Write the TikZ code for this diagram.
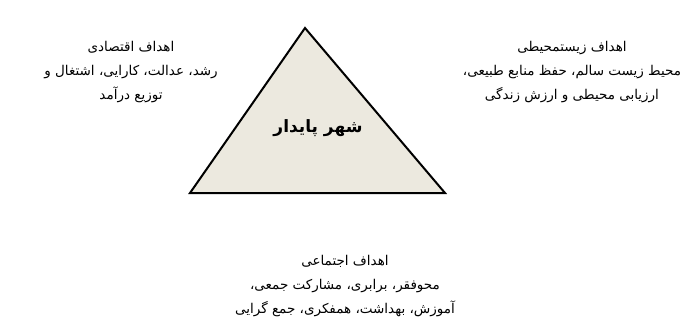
\documentclass[tikz,border=0pt]{standalone}
\usepackage{fontspec}
\newfontfamily\fafont[Script=Arabic]{DejaVu Sans}
\TeXXeTstate=1
\newcommand{\fa}[1]{\beginR #1\endR}
\definecolor{pyrfill}{HTML}{ECE9DF}

\begin{document}
\begin{tikzpicture}[x=1pt, y=-1pt, every node/.style={font=\fafont\fontsize{13.5}{24}\selectfont, align=center}]
\useasboundingbox (0,0) rectangle (689,327);
\coordinate (top) at (305,28);
\coordinate (bl) at (190,193);
\coordinate (br) at (445,193);
\filldraw[fill=pyrfill, line width=2pt, line join=miter] (top) -- (bl) -- (br) -- cycle;
\node[font=\fafont\bfseries\fontsize{17}{24}\selectfont] (city) at (318,128) {\fa{شهر پایدار}};
\node (econ) at (131,72) {\fa{اهداف اقتصادی}\\ \fa{رشد، عدالت، کارایی، اشتغال و}\\ \fa{توزیع درآمد}};
\node (env) at (572,72) {\fa{اهداف زیستمحیطی}\\ \fa{محیط زیست سالم، حفظ منابع طبیعی،}\\ \fa{ارزیابی محیطی و ارزش زندگی}};
\node (soc) at (345,286) {\fa{اهداف اجتماعی}\\ \fa{محوفقر، برابری، مشارکت جمعی،}\\ \fa{آموزش، بهداشت، همفکری، جمع گرایی}};
\end{tikzpicture}
\end{document}
